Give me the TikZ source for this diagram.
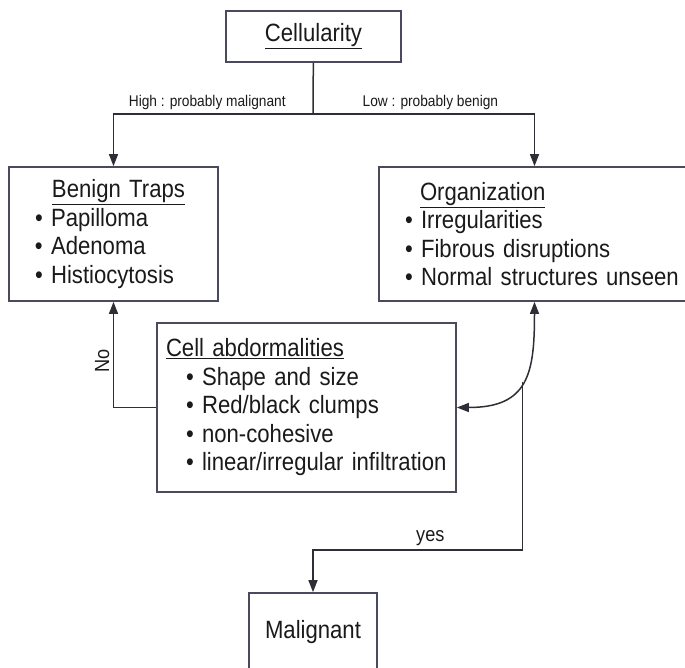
\documentclass[tikz,border=0pt]{standalone}
\usepackage{fontspec}
\setmainfont{Liberation Sans}[FakeStretch=0.885]
\usepackage{xcolor}
\usepackage{tikz}
\usetikzlibrary{arrows.meta, positioning, calc}
\definecolor{boxline}{HTML}{4A4A5E}
\definecolor{wireline}{HTML}{2E2E36}
\definecolor{inktext}{HTML}{1A1A1A}
\tikzset{
  flowbox/.style={
    draw=boxline, line width=1.7pt, inner sep=0pt, align=left,
    font=\fontsize{25}{28.5}\selectfont, text=inktext
  },
  flowline/.style={
    line width=1.5pt, draw=wireline
  },
  flowarrow/.style={
    -{Triangle[length=12pt,width=9pt]}, line width=1.5pt, draw=wireline
  },
  flowlabel/.style={
    font=\fontsize{15.5}{18}\selectfont, text=inktext
  },
  answerlabel/.style={
    font=\fontsize{20.5}{24}\selectfont, text=inktext
  },
}

\begin{document}
\begin{tikzpicture}[x=1pt, y=1pt]
  \useasboundingbox (0,0) rectangle (685,-667);
  \clip (0,0) rectangle (685,-667);

  % Boxes
  \node[flowbox, align=center, text width=175pt, minimum height=51pt]
    (cellularity) at (313.5,-36.5) {\underline{Cellularity}};
  \node[flowbox, text width=209pt, minimum height=134pt]
    (benign) at (113.5,-234) {%
    \hspace*{43pt}\underline{Benign Traps}\\
    \hspace*{26pt}\textbullet\ Papilloma\\
    \hspace*{26pt}\textbullet\ Adenoma\\
    \hspace*{26pt}\textbullet\ Histiocytosis};
  \node[flowbox, text width=311pt, minimum height=134pt]
    (org) at (534.5,-234) {%
    \hspace*{41pt}\underline{Organization}\\
    \hspace*{26pt}\textbullet\ Irregularities\\
    \hspace*{26pt}\textbullet\ Fibrous disruptions\\
    \hspace*{26pt}\textbullet\ Normal structures unseen};
  \node[flowbox, text width=299pt, minimum height=169pt]
    (cellbox) at (306.5,-407.5) {%
    \hspace*{9pt}\underline{Cell abdormalities}\\
    \hspace*{29pt}\textbullet\ Shape and size\\
    \hspace*{29pt}\textbullet\ Red/black clumps\\
    \hspace*{29pt}\textbullet\ non-cohesive\\
    \hspace*{29pt}\textbullet\ linear/irregular infiltration};
  \node[flowbox, align=center, text width=128pt, minimum height=78pt]
    (malig) at (313,-632) {Malignant};

  % Cellularity split
  \coordinate (split) at (313,-114);
  \draw[flowline] (cellularity) -- (split);
  \draw[flowarrow] (split) -|
    node[flowlabel, above, pos=0.265] {High : probably malignant} (benign);
  \draw[flowarrow] (split) -|
    node[flowlabel, above, pos=0.265] {Low : probably benign} (org);

  % No: back to benign traps
  \draw[flowarrow] (cellbox) -|
    node[answerlabel, rotate=90, above, pos=0.72] {No} (benign);

  % Organization <-> cell abdormalities
  \draw[flowline, {Triangle[length=12pt,width=9pt]}-{Triangle[length=12pt,width=9pt]}]
    (cellbox.east) to[out=0, in=-90, looseness=1.4]
    coordinate[pos=0.5] (tap) (org.south);

  % Yes: malignant
  \coordinate (yesbend) at (313,-550);
  \draw[flowarrow] (tap) -- (tap |- yesbend) -|
    node[answerlabel, above, pos=0.22] {yes} (malig);
\end{tikzpicture}
\end{document}
